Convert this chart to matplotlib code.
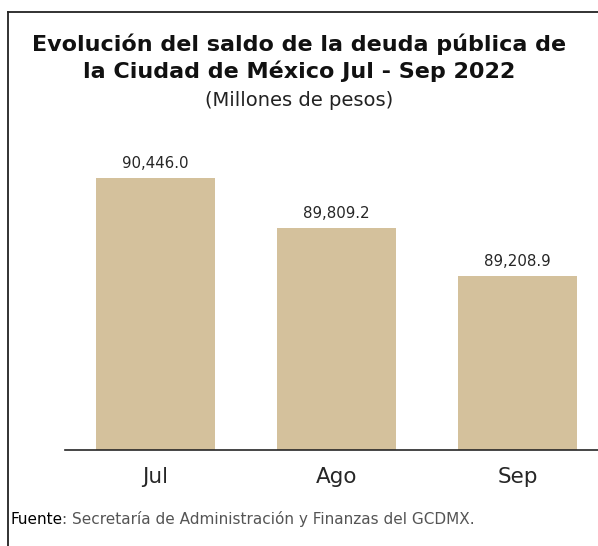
import matplotlib
matplotlib.use("Agg")
import matplotlib.pyplot as plt
from matplotlib.lines import Line2D

categories = ["Jul", "Ago", "Sep"]
values = [90446.0, 89809.2, 89208.9]
value_labels = ["90,446.0", "89,809.2", "89,208.9"]
title_text = "Evolución del saldo de la deuda pública de\nla Ciudad de México Jul - Sep 2022"
subtitle_text = "(Millones de pesos)"
source_bold = "Fuente"
source_rest = ": Secretaría de Administración y Finanzas del GCDMX."

W, H = 598, 546
fig = plt.figure(figsize=(W / 100, H / 100), dpi=100)
plt.rcParams['font.family'] = ['DejaVu Sans']

# axes: baseline at y=450px, top at 150px; left 65px, 181px per category
ax_left = 65 / W
ax_width = 543 / W
ax_bottom = (H - 450) / H
ax_height = 300 / H
ax = fig.add_axes([ax_left, ax_bottom, ax_width, ax_height])

bar_color = "#D4C19C"
x = list(range(len(categories)))
bars = ax.bar(x, values, width=0.66, color=bar_color, zorder=2)
ymin = 87000
px_per_unit = 272 / (90446 - 87000)
ax.set_ylim(ymin, ymin + 300 / px_per_unit)
ax.set_xlim(-0.5, 2.5)

for xi, v, lab in zip(x, values, value_labels):
    ax.annotate(lab, (xi, v), xytext=(0, 5), textcoords="offset points",
                ha="center", va="bottom", fontsize=10.8, color="#262626")

for s in ["top", "right", "left"]:
    ax.spines[s].set_visible(False)
ax.spines["bottom"].set_color("#262626")
ax.spines["bottom"].set_linewidth(1.2)
ax.set_yticks([])
ax.set_xticks(x)
ax.set_xticklabels(categories, fontsize=15.5, color="#262626")
ax.tick_params(axis="x", length=0, pad=12)
ax.set_facecolor("none")

# title
fig.text(0.5, 1 - 58 / H, title_text, ha="center", va="center",
         fontsize=16, fontweight="bold", color="#111111", linespacing=1.3)
fig.text(0.5, 1 - 101 / H, subtitle_text, ha="center", va="center",
         fontsize=14, color="#222222")

# frame
fig.add_artist(Line2D([8 / W, 8 / W], [0, 1 - 12 / H], color="#222222", lw=1.3))
fig.add_artist(Line2D([8 / W, 1], [1 - 12 / H, 1 - 12 / H], color="#222222", lw=1.3))

# source
ys = 1 - 524 / H
t1 = fig.text(10 / W, ys, source_bold, ha="left", va="baseline",
              fontsize=11, color="#000000")
fig.canvas.draw()
bb = t1.get_window_extent()
fig.text(bb.x1 / W, ys, source_rest, ha="left", va="baseline",
         fontsize=11, color="#555555")

fig.savefig("out.png", dpi=100)
